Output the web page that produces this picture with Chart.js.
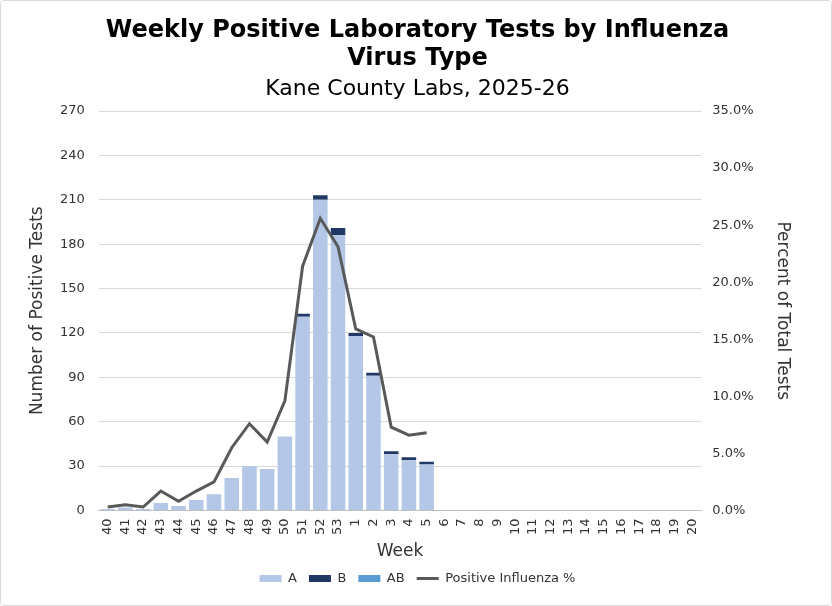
<!DOCTYPE html>
<html>
<head>
<meta charset="utf-8">
<script src="https://cdn.jsdelivr.net/npm/chart.js@4.4.1/dist/chart.umd.min.js"></script>
<style>
  html, body { margin: 0; padding: 0; background: #fff; }
  #wrap {
    width: 830px; height: 604px;
    border: 1px solid #d9d9d9; border-radius: 4px;
    position: relative;
  }
</style>
</head>
<body>
<div id="wrap"><canvas id="fluChart"></canvas></div>
<script>
// weeks of the 2025-26 season
var weeks = ["40","41","42","43","44","45","46","47","48","49","50","51","52","53",
             "1","2","3","4","5","6","7","8","9","10","11","12","13","14","15","16","17","18","19","20"];

// positive tests by virus type (null = not reported yet)
var typeA  = [1, 2, 1, 5, 3, 7, 11, 22, 30, 28, 50, 131, 210, 186, 118, 91, 38, 34, 31,
              null, null, null, null, null, null, null, null, null, null, null, null, null, null, null];
var typeB  = [0, 0, 0, 0, 0, 0, 0, 0, 0, 0, 0, 2, 3, 5, 2, 2, 2, 2, 2,
              null, null, null, null, null, null, null, null, null, null, null, null, null, null, null];
var typeAB = [0, 0, 0, 0, 0, 0, 0, 0, 0, 0, 0, 0, 0, 0, 0, 0, 0, 0, 0,
              null, null, null, null, null, null, null, null, null, null, null, null, null, null, null];

// percent of total tests positive for influenza
var pctPositive = [0.3, 0.5, 0.3, 1.7, 0.8, 1.7, 2.5, 5.5, 7.6, 6.0, 9.6, 21.4, 25.6, 23.1, 15.9, 15.2, 7.3, 6.6, 6.8,
                   null, null, null, null, null, null, null, null, null, null, null, null, null, null, null];

var fontFamily = "'DejaVu Sans', Verdana, sans-serif";

var ctx = document.getElementById("fluChart").getContext("2d");
new Chart(ctx, {
  type: "bar",
  data: {
    labels: weeks,
    datasets: [
      { label: "A", data: typeA, backgroundColor: "#b4c7e7", yAxisID: "y", order: 1, pointStyle: "rect",
        barPercentage: 0.82, categoryPercentage: 1.0 },
      { label: "B", data: typeB, backgroundColor: "#203864", yAxisID: "y", order: 1, pointStyle: "rect",
        barPercentage: 0.82, categoryPercentage: 1.0 },
      { label: "AB", data: typeAB, backgroundColor: "#5b9bd5", yAxisID: "y", order: 1, pointStyle: "rect",
        barPercentage: 0.82, categoryPercentage: 1.0 },
      { label: "Positive Influenza %", type: "line", data: pctPositive, yAxisID: "y1", order: 0,
        borderColor: "#595959", backgroundColor: "#595959", borderWidth: 3, pointRadius: 0,
        pointStyle: "line", tension: 0, fill: false }
    ]
  },
  options: {
    responsive: true,
    maintainAspectRatio: false,
    animation: false,
    layout: { padding: { left: 28, right: 25, top: 8, bottom: 10 } },
    plugins: {
      title: {
        display: true,
        text: ["Weekly Positive Laboratory Tests by Influenza", "Virus Type"],
        color: "#000",
        font: { family: fontFamily, size: 24, weight: "bold", lineHeight: 1.2 },
        padding: { top: 7, bottom: 0 }
      },
      subtitle: {
        display: true,
        text: "Kane County Labs, 2025-26",
        color: "#000",
        font: { family: fontFamily, size: 22, weight: "normal", lineHeight: 1.2 },
        padding: { top: 2, bottom: 9 }
      },
      legend: {
        position: "bottom",
        labels: {
          usePointStyle: true,
          pointStyleWidth: 22,
          boxHeight: 7,
          color: "#333",
          padding: 12,
          font: { family: fontFamily, size: 13 },
          sort: function (a, b) { return a.datasetIndex - b.datasetIndex; }
        }
      },
      tooltip: { enabled: false }
    },
    scales: {
      x: {
        stacked: true,
        grid: { display: false, drawTicks: false },
        border: { color: "#bfbfbf" },
        ticks: { minRotation: 90, maxRotation: 90, autoSkip: false, color: "#333",
                 font: { family: fontFamily, size: 13 }, padding: 8 },
        title: { display: true, text: "Week", color: "#333",
                 font: { family: fontFamily, size: 17, lineHeight: 1.0 }, padding: { top: 0, bottom: 0 } }
      },
      y: {
        stacked: true,
        position: "left",
        min: 0, max: 270,
        ticks: { stepSize: 30, color: "#333", font: { family: fontFamily, size: 13 }, padding: 14 },
        grid: { color: "#d9d9d9", drawTicks: false },
        border: { display: false },
        title: { display: true, text: "Number of Positive Tests", color: "#333",
                 font: { family: fontFamily, size: 17, lineHeight: 1.0 }, padding: { top: 0, bottom: 0 } }
      },
      y1: {
        position: "right",
        min: 0, max: 35,
        ticks: { stepSize: 5, color: "#333", font: { family: fontFamily, size: 13 }, padding: 11,
                 callback: function (v) { return v.toFixed(1) + "%"; } },
        grid: { display: false, drawTicks: false },
        border: { display: false },
        title: { display: true, text: "Percent of Total Tests", color: "#333",
                 font: { family: fontFamily, size: 17 }, padding: { top: 13, bottom: 8 } }
      }
    }
  }
});
</script>
</body>
</html>
